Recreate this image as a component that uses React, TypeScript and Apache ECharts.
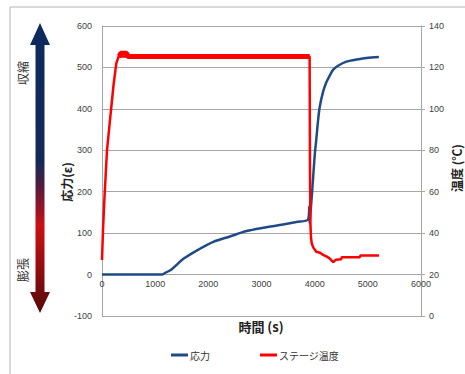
import React, { useEffect, useRef } from "react";
import * as echarts from "echarts";

const stressTime = [0, 500, 1000, 1125, 1188, 1313, 1531, 1781, 2094, 2406, 2719, 3031, 3406, 3656, 3875, 3900, 3905, 3912, 3956, 4000, 4031, 4064, 4094, 4158, 4220, 4283, 4345, 4440, 4597, 4784, 4972, 5208];
const stressValue = [0, 0, 0, 0, 4, 13, 38, 58, 79, 92, 105, 113, 121, 127, 133, 165, 124, 134, 206, 287, 327, 372, 404, 441, 464, 480, 494, 504, 514, 519, 523, 525];

const tempTime = [0, 19, 44, 94, 156, 219, 269, 313, 3905, 3912, 3920, 3930, 3945, 3975, 4030, 4100, 4160, 4220, 4280, 4330, 4350, 4370, 4400, 4500, 4510, 4850, 4860, 5210];
const tempValue = [27, 41.5, 56, 80, 96, 112, 122, 125.3, 125.3, 70, 45, 38, 35, 33, 31, 30.5, 29.5, 28.8, 27.8, 26.5, 26, 26.5, 27.2, 27.4, 28.4, 28.4, 29.2, 29.2];

// noisy plateau of the stage temperature (drawn as a thicker band)
const plateauTime = [313, 340, 350, 470, 480, 3905];
const plateauValue = [125.3, 126, 126.8, 126.8, 125.3, 125.3];

const leftTicks = { min: -100, max: 600, interval: 100 };
const rightTicks = { min: 0, max: 140, interval: 20 };
const xTicks = { min: 0, max: 6000, interval: 1000 };

const seriesNames = ["応力", "ステージ温度"];

export default function App() {
  const ref = useRef<HTMLDivElement>(null);
  useEffect(() => {
    if (!ref.current) return;
    const chart = echarts.init(ref.current, null, { renderer: "svg" });
    const stressData = stressTime.map((t, i) => [t, stressValue[i]]);
    const tempData = tempTime.map((t, i) => [t, tempValue[i]]);
    const plateauData = plateauTime.map((t, i) => [t, plateauValue[i]]);
    const numFont = "'Liberation Sans', Arial, sans-serif";
    const jpFont = "'Noto Sans CJK JP', sans-serif";
    const gridTop = 26;
    const gridBottomY = 316;
    const zeroOffset = -((0 - leftTicks.min) / (leftTicks.max - leftTicks.min)) * (gridBottomY - gridTop);
    chart.setOption({
      animation: false,
      backgroundColor: "#ffffff",
      grid: { left: 102, right: 44, top: gridTop, bottom: 374 - gridBottomY, containLabel: false },
      legend: {
        data: seriesNames,
        left: 166,
        top: 345,
        icon: "rect",
        itemWidth: 17,
        itemHeight: 3,
        itemGap: 50,
        textStyle: { fontSize: 10, color: "#333", fontFamily: jpFont, padding: [0, 0, 0, -3] },
      },
      xAxis: {
        type: "value",
        min: xTicks.min,
        max: xTicks.max,
        interval: xTicks.interval,
        position: "bottom",
        offset: zeroOffset,
        axisLine: { show: false, onZero: false },
        axisTick: { show: false },
        splitLine: { show: false },
        axisLabel: { fontSize: 9, color: "#404040", fontFamily: numFont, margin: 5, formatter: (v: number) => String(v) },
      },
      yAxis: [
        {
          type: "value",
          min: leftTicks.min,
          max: leftTicks.max,
          interval: leftTicks.interval,
          axisLine: { show: true, lineStyle: { color: "#a6a6a6" } },
          axisTick: { show: false },
          splitLine: { show: true, lineStyle: { color: "#a6a6a6", width: 1 } },
          axisLabel: { fontSize: 9, color: "#404040", fontFamily: numFont, margin: 10 },
        },
        {
          type: "value",
          position: "right",
          min: rightTicks.min,
          max: rightTicks.max,
          interval: rightTicks.interval,
          axisLine: { show: true, lineStyle: { color: "#a6a6a6" } },
          axisTick: { show: true, inside: false, length: 4, lineStyle: { color: "#a6a6a6" } },
          splitLine: { show: false },
          axisLabel: { fontSize: 9, color: "#404040", fontFamily: numFont, margin: 8 },
        },
      ],
      series: [
        {
          name: seriesNames[0],
          type: "line",
          yAxisIndex: 0,
          data: stressData,
          showSymbol: false,
          symbol: "none",
          smooth: 0.3,
          lineStyle: { color: "#1f4a85", width: 2.5 },
          itemStyle: { color: "#1f4a85" },
          z: 3,
        },
        {
          name: seriesNames[1],
          type: "line",
          yAxisIndex: 1,
          data: tempData,
          showSymbol: false,
          symbol: "none",
          lineStyle: { color: "#ff0000", width: 2.5 },
          itemStyle: { color: "#ff0000" },
          z: 4,
        },
        {
          name: seriesNames[1],
          type: "line",
          yAxisIndex: 1,
          data: plateauData,
          showSymbol: false,
          symbol: "none",
          lineStyle: { color: "#ff0000", width: 5 },
          itemStyle: { color: "#ff0000" },
          z: 4,
        },
      ],
      graphic: [
        { type: "line", shape: { x1: 10, y1: 7, x2: 465, y2: 7 }, style: { stroke: "#b4b4b4", lineWidth: 1 } },
        { type: "line", shape: { x1: 10, y1: 7, x2: 10, y2: 374 }, style: { stroke: "#b4b4b4", lineWidth: 1 } },
        {
          type: "polygon",
          shape: {
            points: [
              [40, 23], [50, 45], [44.5, 45], [44.5, 292], [50, 292], [40, 313],
              [30, 292], [35.5, 292], [35.5, 45], [30, 45],
            ],
          },
          style: {
            fill: new echarts.graphic.LinearGradient(0, 0, 0, 1, [
              { offset: 0, color: "#0e2a5e" },
              { offset: 0.48, color: "#14295a" },
              { offset: 0.57, color: "#5a1a3c" },
              { offset: 0.7, color: "#cc0f12" },
              { offset: 1, color: "#56090b" },
            ]),
          },
        },
        {
          type: "text", x: 22, y: 73, rotation: Math.PI / 2,
          style: { text: "収縮", fontSize: 12, fill: "#333", fontFamily: jpFont, align: "center", verticalAlign: "middle" },
        },
        {
          type: "text", x: 22, y: 270, rotation: Math.PI / 2,
          style: { text: "膨張", fontSize: 12, fill: "#333", fontFamily: jpFont, align: "center", verticalAlign: "middle" },
        },
        {
          type: "text", x: 66, y: 182, rotation: Math.PI / 2,
          style: { text: "応力(ε)", fontSize: 12, fontWeight: "bold", fill: "#222", fontFamily: jpFont, align: "center", verticalAlign: "middle" },
        },
        {
          type: "text", x: 456, y: 168, rotation: Math.PI / 2,
          style: { text: "温度 (℃)", fontSize: 12, fontWeight: "bold", fill: "#222", fontFamily: jpFont, align: "center", verticalAlign: "middle" },
        },
        {
          type: "text", x: 261, y: 326,
          style: { text: "時間 (s)", fontSize: 13, fontWeight: "bold", fill: "#222", fontFamily: jpFont, align: "center", verticalAlign: "middle" },
        },
      ],
    });
    return () => chart.dispose();
  }, []);
  return <div ref={ref} style={{ width: 465, height: 374, position: "fixed", left: 0, top: 0 }} />;
}
